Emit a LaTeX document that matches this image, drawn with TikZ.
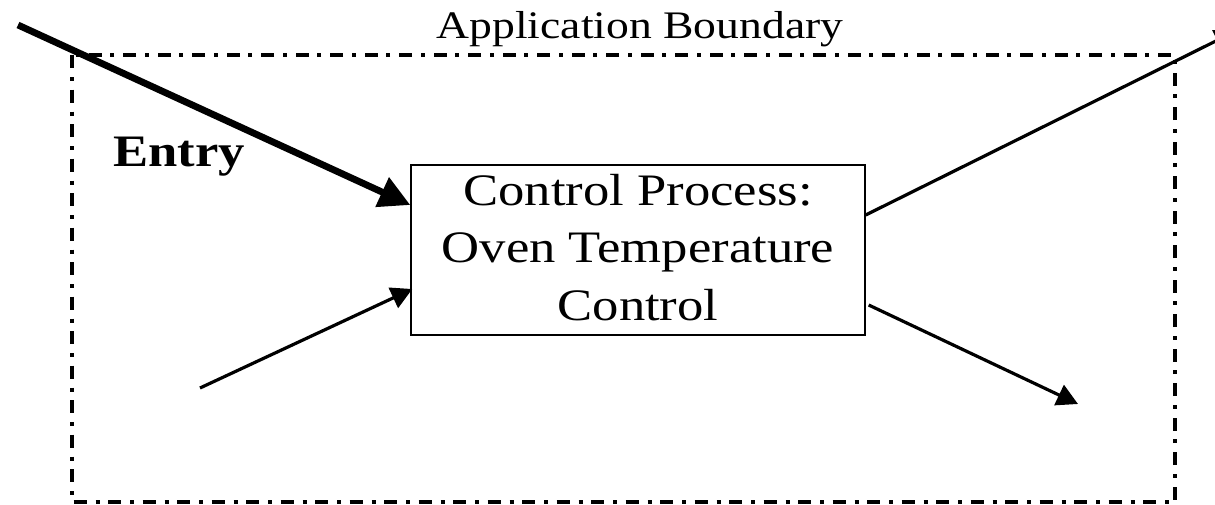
\documentclass[tikz,border=0pt]{standalone}
\usepackage{fontspec}
\usetikzlibrary{arrows.meta}
\setmainfont{Liberation Serif}[FakeStretch=1.17]

\tikzset{
  boundaryline/.style={line width=1.75pt, dash pattern=on 6.5pt off 4.5pt on 2pt off 4.25pt},
  procbox/.style={draw, line width=0.7pt, minimum width=227pt, minimum height=85pt,
    align=center, inner sep=0pt, text depth=3pt, font=\fontsize{22.5}{28.75}\selectfont},
  flow/.style={line width=1.6pt, -{Triangle[length=10.5pt, width=11pt]}},
  entryflow/.style={line width=3.4pt, -{Triangle[length=15.5pt, width=15.5pt]}},
  caption/.style={font=\fontsize{19.5}{23}\selectfont, inner sep=0pt},
  entrylabel/.style={font=\fontsize{22.5}{27}\selectfont\bfseries, inner sep=0pt}
}

\begin{document}
\begin{tikzpicture}[x=0.5pt, y=-0.5pt]
  % page frame
  \clip (0,0) rectangle (1215,504);
  \useasboundingbox (0,0) rectangle (1215,504);

  % application boundary
  \draw[boundaryline] (72,55) rectangle (1175,502);
  \node[caption, anchor=base] (title) at (640,38) {Application Boundary};

  % control process
  \node[procbox] (proc) at (638,250)
    {Control Process:\\ Oven Temperature\hspace*{7pt}\\ Control};

  % free ends of the data movements
  \coordinate (entrystart) at (18,25);
  \coordinate (lowin) at (200,388);
  \coordinate (upout) at (1236,31);
  \coordinate (lowout) at (1078,404);

  \node[entrylabel, anchor=base west] (entry) at (113,166) {Entry};

  % data movements
  \draw[entryflow] (entrystart) -- ([yshift=22.5pt]proc.west);
  \draw[flow] (lowin) -- ([yshift=-19.5pt, xshift=1pt]proc.west);
  \draw[flow] ([yshift=17.5pt]proc.east) -- (upout);
  \draw[flow] ([yshift=-27.5pt, xshift=1.5pt]proc.east) -- (lowout);
\end{tikzpicture}
\end{document}
